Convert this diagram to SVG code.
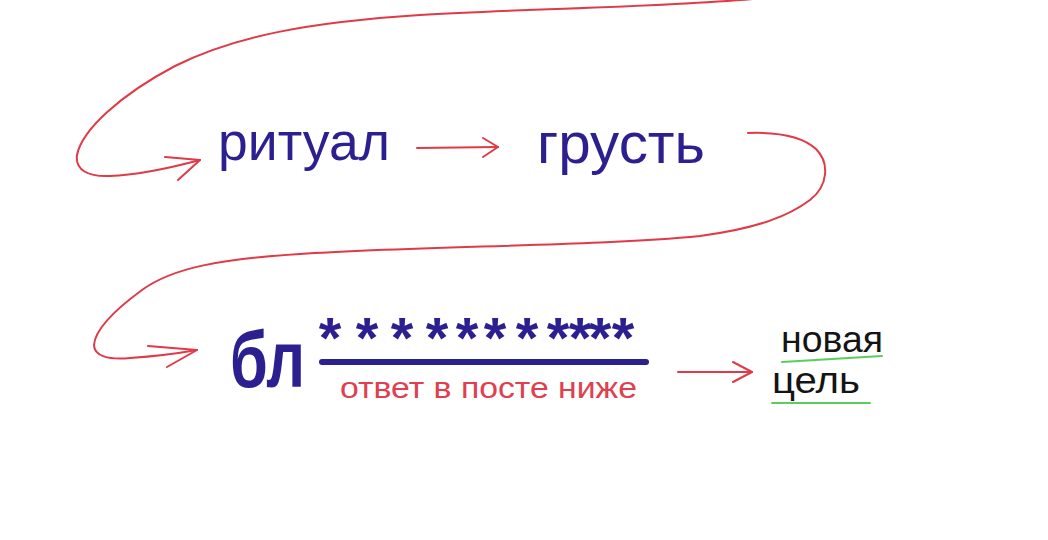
<svg xmlns="http://www.w3.org/2000/svg" width="1048" height="540" viewBox="0 0 1048 540">
  <style>
    .ink { font-family: "Liberation Sans", "DejaVu Sans", sans-serif; fill: #2c1f8f; }
    .red-text { font-family: "Liberation Sans", "DejaVu Sans", sans-serif; fill: #e0404e; }
    .black-text { font-family: "Liberation Sans", "DejaVu Sans", sans-serif; fill: #141414; }
    .conn { fill: none; stroke: #e03a48; stroke-width: 2; stroke-linecap: round; stroke-linejoin: round; }
    .under { fill: none; stroke: #5ccc5c; stroke-width: 2; stroke-linecap: round; }
  </style>
  <rect width="1048" height="540" fill="#ffffff"/>

  <g id="connectors">
    <!-- top loop into "ритуал" -->
    <path class="conn" d="M 764 -2 C 660 8, 530 8, 420 15 C 310 22, 235 36, 175 66 C 120 95, 82 130, 77 155 C 75 170, 88 177, 110 176 C 140 175, 170 168, 200 160"/>
    <path class="conn" d="M 165 157 L 200 160 L 178 180"/>
    <!-- ритуал -> грусть -->
    <path class="conn" d="M 417 148 L 498 147"/>
    <path class="conn" d="M 483 138 L 498 147 L 483 157"/>
    <!-- грусть -> бл (S curve) -->
    <path class="conn" d="M 748 133 C 775 132, 802 136, 816 149 C 830 163, 828 186, 810 200 C 790 215, 760 228, 700 236 C 600 246, 420 246, 300 254 C 220 259, 172 268, 142 290 C 112 312, 95 330, 94 345 C 94 356, 108 360, 130 358 C 160 356, 180 353, 197 350"/>
    <path class="conn" d="M 148 346 L 197 350 L 167 367"/>
    <!-- бл -> новая цель -->
    <path class="conn" d="M 678 372 L 752 372"/>
    <path class="conn" d="M 733 362 L 752 372 L 733 382"/>
  </g>

  <g id="node-ritual">
    <text class="ink" x="218" y="160" font-size="54" textLength="172" lengthAdjust="spacingAndGlyphs">ритуал</text>
  </g>

  <g id="node-grust">
    <text class="ink" x="537" y="163" font-size="57" textLength="168" lengthAdjust="spacingAndGlyphs">грусть</text>
  </g>

  <g id="node-bl">
    <text class="ink" x="230" y="387" font-size="80" font-weight="bold" textLength="75" lengthAdjust="spacingAndGlyphs">бл</text>
    <text class="ink" y="358" font-size="58" font-weight="bold" text-anchor="middle" x="330 367 402 437 467 495 527 558 580 600 623">***********</text>
    <line x1="322" y1="362" x2="646" y2="362" stroke="#2c1f8f" stroke-width="6" stroke-linecap="round"/>
    <text class="red-text" x="340" y="398" font-size="30" textLength="297" lengthAdjust="spacingAndGlyphs">ответ в посте ниже</text>
  </g>

  <g id="node-new-goal">
    <text class="black-text" x="781" y="352" font-size="36" textLength="102" lengthAdjust="spacingAndGlyphs">новая</text>
    <path class="under" d="M 782 362 L 882 356"/>
    <text class="black-text" x="772" y="393" font-size="36" textLength="88" lengthAdjust="spacingAndGlyphs">цель</text>
    <path class="under" d="M 772 403 L 870 403"/>
  </g>
</svg>
